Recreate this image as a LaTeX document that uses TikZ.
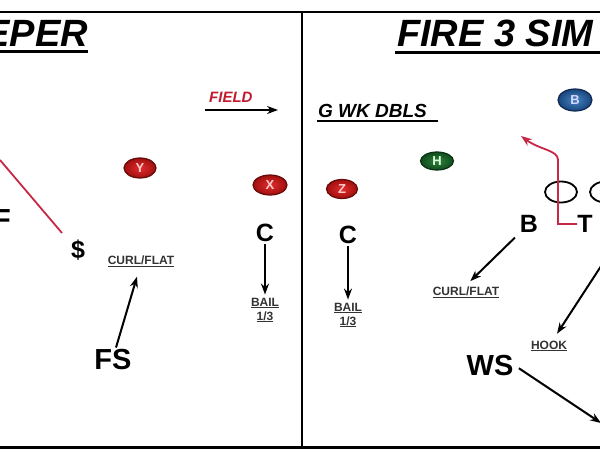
\documentclass[tikz,border=0pt]{standalone}
\usepackage{fontspec}
\setmainfont{Liberation Sans}
\usetikzlibrary{shapes.geometric,arrows.meta}
\definecolor{redin}{RGB}{225,45,45}
\definecolor{redout}{RGB}{160,15,15}
\definecolor{redrim}{RGB}{100,10,10}
\definecolor{grnin}{RGB}{50,130,60}
\definecolor{grnout}{RGB}{15,75,30}
\definecolor{grnrim}{RGB}{10,50,20}
\definecolor{bluin}{RGB}{70,130,195}
\definecolor{bluout}{RGB}{25,70,125}
\definecolor{blurim}{RGB}{15,40,80}
\definecolor{route}{RGB}{200,40,70}
\definecolor{fieldred}{RGB}{195,25,45}
\begin{document}
\begin{tikzpicture}[x=1pt,y=-1pt,
  pl/.style={font=\bfseries\fontsize{25}{25}\selectfont, inner sep=2pt},
  pll/.style={font=\bfseries\fontsize{29}{29}\selectfont, inner sep=2pt},
  lab/.style={font=\bfseries\fontsize{12}{13}\selectfont, inner sep=1pt, align=center, text=black!80},
  arr/.style={line width=2pt, -{Stealth[length=11pt,width=8pt]}},
  oval/.style={ellipse, line width=1.2pt, minimum width=32pt, minimum height=20pt, inner sep=0pt,
               font=\bfseries\fontsize{13}{13}\selectfont},
  redo/.style={oval, draw=redrim, inner color=redin, outer color=redout, text=white!80!red},
  grno/.style={oval, draw=grnrim, inner color=grnin, outer color=grnout, text=white!85!green},
  bluo/.style={oval, draw=blurim, inner color=bluin, outer color=bluout, text=white!85!blue},
  lineman/.style={ellipse, draw, line width=1.8pt, minimum width=32pt, minimum height=21pt, inner sep=0pt},
  title/.style={font=\bfseries\itshape\fontsize{38}{38}\selectfont, inner sep=0pt},
  frame/.style={line width=2pt}
]
\useasboundingbox (0,0) rectangle (600,450);
\fill[white] (0,0) rectangle (600,450);

% frame
\draw[frame] (0,12) -- (600,12);
\draw[line width=3pt] (0,447) -- (600,447);
\draw[frame] (302,12) -- (302,447);

% titles
\node[title, anchor=base east] (t1) at (88,46) {EPER};
\draw[line width=3pt] (0,51) -- (t1.base east |- 0,51);
\node[title, anchor=base west] (t2) at (397,46) {FIRE 3 SIM};
\draw[line width=3pt] (395,52) -- (600,52);

% FIELD
\node[font=\bfseries\itshape\fontsize{15}{15}\selectfont, text=fieldred, anchor=base west, inner sep=0pt] (field) at (209,102) {FIELD};
\coordinate (fa) at (205,110);
\coordinate (fb) at (278,110);
\draw[arr] (fa) -- (fb);

% G WK DBLS
\node[font=\bfseries\itshape\fontsize{19}{19}\selectfont, anchor=base west, inner sep=0pt] (gwk) at (318,117) {G WK DBLS};
\draw[line width=2pt] (317,121) -- (438,121);

% left panel
\node[redo] (Y) at (140,168) {Y};
\node[redo, minimum width=34pt] (X) at (270,185) {X};
\node[pll, anchor=east] (F) at (13,220) {F};
\node[pl] (S) at (78,250) {\$};
\coordinate (rl1) at (0,160);
\coordinate (rl2) at (62,233);
\draw[route, line width=1.8pt] (rl1) -- (rl2);
\node[lab] (curlL) at (141,261) {\underline{CURL/FLAT}};
\node[pll] (FS) at (113,360) {FS};
\draw[arr] ([xshift=3pt]FS.north) -- ([xshift=-4pt,yshift=-9pt]curlL.south);
\node[pl] (C1) at (265,233) {C};
\node[lab] (bail1) at (265,310) {\underline{BAIL}\\[1pt]\underline{1/3}};
\draw[arr] (C1.south) -- ([yshift=2pt]bail1.north);

% right panel
\node[redo, minimum width=31pt, minimum height=19pt] (Z) at (342,189) {Z};
\node[grno, minimum width=33pt, minimum height=18pt] (H) at (437,161) {H};
\node[bluo, minimum width=34pt, minimum height=22pt] (Bb) at (575,100) {B};
\node[pl] (C2) at (348,235) {C};
\node[lab] (bail2) at (348,315) {\underline{BAIL}\\[1pt]\underline{1/3}};
\draw[arr] (C2.south) -- ([yshift=2pt]bail2.north);

\node[lineman] (o1) at (561,192) {};
\node[lineman] (o2) at (606,192) {};
\node[pl] (B) at (529,224) {B};
\node[pl] (T) at (585,224) {T};
\node[lab] (curlR) at (466,292) {\underline{CURL/FLAT}};
\draw[arr, shorten <=4pt, shorten >=6pt] (B.south west) -- (curlR.north);

\coordinate (r0) at (577,224);
\coordinate (r1) at (558,224);
\coordinate (r2) at (558,160);
\coordinate (r3) at (521,136);
\draw[route, line width=1.8pt, -{Stealth[length=11pt,width=8pt]}]
  (r0) -- (r1) -- (r2) .. controls (558,150) and (540,150) .. (r3);

\node[lab] (hook) at (549,346) {\underline{HOOK}};
\coordinate (hs) at (605,260);
\draw[arr, shorten >=7pt] (hs) -- (hook);

\node[pll] (WS) at (490,366) {WS};
\coordinate (we) at (601,423);
\draw[arr, shorten <=4pt] (WS.east) -- (we);
\end{tikzpicture}
\end{document}
